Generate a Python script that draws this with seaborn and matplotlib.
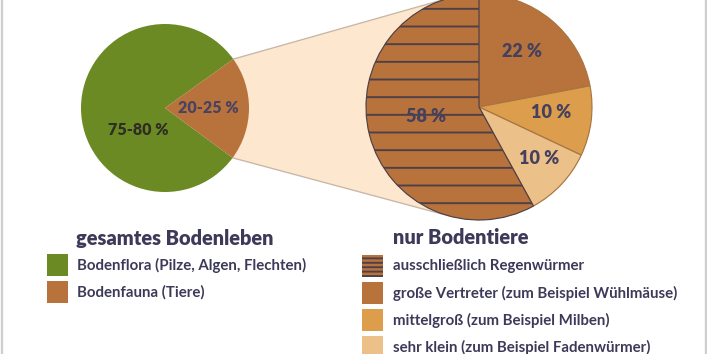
import numpy as np
import matplotlib
matplotlib.use("Agg")
import matplotlib.pyplot as plt
from matplotlib.patches import Rectangle, Polygon
import seaborn as sns

# ---------------------------------------------------------------------------
# Daten
# ---------------------------------------------------------------------------
gesamt_labels = ["Bodenflora (Pilze, Algen, Flechten)", "Bodenfauna (Tiere)"]
gesamt_werte = [80, 20]
gesamt_texte = ["75-80 %", "20-25 %"]

tiere_labels = ["große Vertreter (zum Beispiel Wühlmäuse)",
                "mittelgroß (zum Beispiel Milben)",
                "sehr klein (zum Beispiel Fadenwürmer)",
                "ausschließlich Regenwürmer"]
tiere_werte = [22, 10, 10, 58]
tiere_texte = ["22 %", "10 %", "10 %", "58 %"]

# Legendenreihenfolge rechts
tiere_legende = [3, 0, 1, 2]

GRUEN = "#6b8a24"
BRAUN = "#b7733b"
MITTEL = "#dc9d4c"
HELL = "#ebc089"
PFIRSICH = "#fde8cf"
TEXT = "#3c3a58"

sns.set_theme(style="white")
plt.rcParams["font.family"] = ["Lato", "DejaVu Sans"]
plt.rcParams["hatch.linewidth"] = 1.3

DPI = 106
W, H = 707, 354
fig = plt.figure(figsize=(W / DPI, H / DPI), dpi=DPI)
ax = fig.add_axes([0, 0, 1, 1])

def pt(px):
    return px * 72 / DPI

# Position der beiden Kreise (Pixel, y nach oben)
c1, r1 = np.array([165.0, 246.0]), 84.0
c2, r2 = np.array([479.0, 247.0]), 113.0

# ---------------------------------------------------------------------------
# Linker Kreis
# ---------------------------------------------------------------------------
w1, _ = ax.pie(gesamt_werte, colors=[GRUEN, BRAUN], center=c1, radius=r1,
               startangle=35.6, counterclock=True,
               wedgeprops=dict(linewidth=0), frame=True)
for w in w1:
    w.set_zorder(3)

# Verbindung: Kanten des Fauna-Stücks -> Tangenten am rechten Kreis
fauna = w1[1]
th_a, th_b = np.deg2rad(fauna.theta1), np.deg2rad(fauna.theta2)
p_low = c1 + r1 * np.array([np.cos(th_a), np.sin(th_a)])
p_up = c1 + r1 * np.array([np.cos(th_b), np.sin(th_b)])

def tangente(p, oben):
    v = p - c2
    d = np.hypot(*v)
    phi = np.arctan2(v[1], v[0])
    a = np.arccos(r2 / d)
    t = phi - a if oben else phi + a
    return c2 + r2 * np.array([np.cos(t), np.sin(t)])

t_up = tangente(p_up, True)
t_low = tangente(p_low, False)
ax.add_patch(Polygon([p_up, t_up, c2, t_low, p_low, c1], closed=True,
                     facecolor=PFIRSICH, edgecolor="none", zorder=1))
for a, b in [(p_up, t_up), (p_low, t_low)]:
    ax.plot([a[0], b[0]], [a[1], b[1]], color="#c8b6a6", lw=0.9, zorder=2)

# ---------------------------------------------------------------------------
# Rechter Kreis
# ---------------------------------------------------------------------------
w2, _ = ax.pie(tiere_werte, colors=[BRAUN, MITTEL, HELL, BRAUN],
               center=c2, radius=r2, startangle=90, counterclock=False,
               wedgeprops=dict(linewidth=0.8, edgecolor="#a8743f"), frame=True)
for w in w2:
    w.set_zorder(3)
w2[3].set_hatch("-")
w2[3].set_edgecolor("#4e4048")
w2[3].set_linewidth(0.8)

ax.set_xlim(0, W)
ax.set_ylim(0, H)
ax.set_aspect("equal")
ax.axis("off")

# Beschriftungen in den Stücken (Winkel, Abstand relativ zum Radius)
pos1 = [(-141, 0.41), (0, 0.52)]
farbe1 = ["#2e2d22", "#4a4262"]
for txt, (ang, d), col in zip(gesamt_texte, pos1, farbe1):
    a = np.deg2rad(ang)
    ax.text(c1[0] + r1 * d * np.cos(a), c1[1] + r1 * d * np.sin(a), txt,
            ha="center", va="center", fontsize=pt(16), fontweight="heavy",
            color=col, zorder=5)

pos2 = [(52, 0.62), (-4, 0.64), (-41, 0.70), (-170, 0.48)]
for txt, (ang, d) in zip(tiere_texte, pos2):
    a = np.deg2rad(ang)
    ax.text(c2[0] + r2 * d * np.cos(a), c2[1] + r2 * d * np.sin(a), txt,
            ha="center", va="center", fontsize=pt(18), fontweight="heavy",
            color="#45405e", zorder=5)

# ---------------------------------------------------------------------------
# Legenden
# ---------------------------------------------------------------------------
def y(img_y):
    return H - img_y

ax.text(76, y(238), "gesamtes Bodenleben", ha="left", va="center",
        fontsize=pt(20), fontweight="heavy", color=TEXT)
for i, (lab, col) in enumerate(zip(gesamt_labels, [GRUEN, BRAUN])):
    top = 254 + 27 * i
    ax.add_patch(Rectangle((47, y(top + 22)), 21, 22, facecolor=col,
                           edgecolor="none"))
    ax.text(77, y(top + 11), lab, ha="left", va="center",
            fontsize=pt(15), fontweight="bold", color=TEXT)

ax.text(393, y(238), "nur Bodentiere", ha="left", va="center",
        fontsize=pt(20), fontweight="heavy", color=TEXT)
farben2 = [BRAUN, MITTEL, HELL, BRAUN]
for i, k in enumerate(tiere_legende):
    top = 255 + 27 * i
    r = Rectangle((362, y(top + 22)), 21, 22, facecolor=farben2[k],
                  edgecolor="none")
    if k == 3:
        r.set_hatch("-" * 4)
        r.set_edgecolor("#4e4048")
        r.set_linewidth(0)
    ax.add_patch(r)
    ax.text(393, y(top + 11), tiere_labels[k], ha="left", va="center",
            fontsize=pt(15), fontweight="bold", color=TEXT)

# Rahmenlinien links und rechts
ax.plot([1.5, 1.5], [0, H], color="#cfcfcf", lw=1.6, zorder=6)
ax.plot([705.5, 705.5], [0, H], color="#cfcfcf", lw=1.6, zorder=6)

fig.savefig("out.png", dpi=DPI, facecolor="white")
